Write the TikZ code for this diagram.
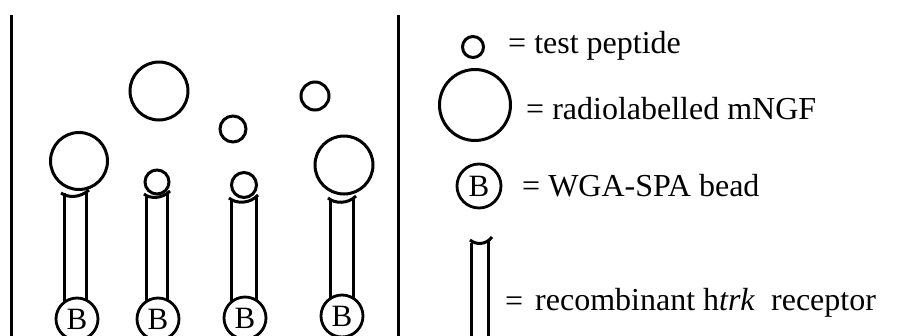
\documentclass[tikz,border=0pt]{standalone}
\usepackage{fontspec}
\setmainfont{Liberation Serif}
\tikzset{
  ln/.style={line width=3pt},
  ball/.style={circle, draw, line width=3pt, inner sep=0pt, minimum size=#1},
  bead/.style={circle, draw, fill=white, line width=2.8pt, inner sep=0pt, minimum size=42pt, font=\fontsize{31}{33}\selectfont},
  lbl/.style={anchor=base west, inner sep=0pt, font=\fontsize{32}{36}\selectfont},
}
\begin{document}
\begin{tikzpicture}[x=1pt,y=-1pt]
\useasboundingbox (0,0) rectangle (903,335);
% separators
\coordinate (l1t) at (11,15); \coordinate (l1b) at (11,340);
\coordinate (l2t) at (398,15); \coordinate (l2b) at (398,340);
\draw[ln] (l1t) -- (l1b);
\draw[ln] (l2t) -- (l2b);
% free molecules
\node[ball=58pt] (f1) at (159,91) {};
\node[ball=26pt] (f2) at (233,129) {};
\node[ball=28pt] (f3) at (315,96) {};
% receptor 1
\draw[ln] (64,193) -- (64,319);
\draw[ln] (86,192) -- (86,319);
\draw[ln] (61,193) .. controls (68,198) and (80,198) .. (89,190);
\node[ball=57pt] (m1) at (79,161) {};
\node[bead] (b1) at (77,319) {B};
% receptor 2
\draw[ln] (146,195) -- (146,319);
\draw[ln] (167,193) -- (167,319);
\draw[ln] (144,194) .. controls (150,199) and (162,199) .. (170,191);
\node[ball=24pt] (p2) at (157,182) {};
\node[bead] (b2) at (158,319) {B};
% receptor 3
\draw[ln] (231,199) -- (231,318);
\draw[ln] (256,197) -- (256,318);
\draw[ln] (229,198) .. controls (236,204) and (250,204) .. (258,195);
\node[ball=25pt] (p3) at (244,185) {};
\node[bead] (b3) at (245,318) {B};
% receptor 4
\draw[ln] (330,199) -- (330,316);
\draw[ln] (353,198) -- (353,316);
\draw[ln] (328,198) .. controls (335,204) and (348,204) .. (356,196);
\node[ball=58pt] (m4) at (344,165) {};
\node[bead] (b4) at (342,316) {B};
% legend
\node[ball=21pt] (kp) at (473,47) {};
\node[lbl] (tp) at (508,53) {= test peptide};
\node[ball=71pt] (km) at (475,105) {};
\node[lbl] (tm) at (526,119) {= radiolabelled mNGF};
\node[bead, minimum size=44pt] (kb) at (479,186) {B};
\node[lbl] (tb) at (522,196) {= WGA-SPA bead};
\draw[ln] (471,243) -- (471,340);
\draw[ln] (488,240) -- (488,340);
\draw[ln] (470,240) .. controls (476,245) and (486,245) .. (492,237);
\node[lbl] (te) at (505,311) {=};
\node[lbl] (tr) at (535,310) {recombinant h\textit{trk}\ \ receptor};
\end{tikzpicture}
\end{document}
